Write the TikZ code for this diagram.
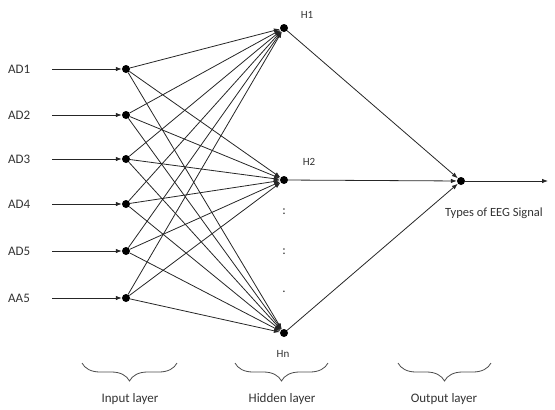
\documentclass[tikz,border=0pt]{standalone}
\usepackage{fontspec}
\setmainfont{Carlito}
\usetikzlibrary{arrows.meta,decorations.pathreplacing}

\begin{document}
\begin{tikzpicture}[x=1pt, y=-1pt, font=\fontsize{13}{15}\selectfont]
        \tikzset{
            neuron/.style={circle, fill=black, inner sep=0pt, minimum size=8pt},
            link/.style={-{Latex[length=6pt,width=4.5pt]}, line width=0.8pt, draw=black!85},
            layerbrace/.style={
                decorate,
                decoration={brace, mirror, amplitude=18pt},
                line width=0.8pt,
                draw=black!70
            },
            tag/.style={text=black!80, inner sep=1pt},
            smalltag/.style={tag, font=\fontsize{11}{13}\selectfont}
        }
        \useasboundingbox (0,0) rectangle (555,410);

        % input layer
        \node[neuron] (in1) at (126,69) {};
        \node[neuron] (in2) at (126,115) {};
        \node[neuron] (in3) at (126,159) {};
        \node[neuron] (in4) at (126,204) {};
        \node[neuron] (in5) at (126,251) {};
        \node[neuron] (in6) at (126,298) {};

        \node[tag, anchor=west] at (7,69) {AD1};
        \node[tag, anchor=west] at (7,115) {AD2};
        \node[tag, anchor=west] at (7,159) {AD3};
        \node[tag, anchor=west] at (7,204) {AD4};
        \node[tag, anchor=west] at (7,251) {AD5};
        \node[tag, anchor=west] at (7,298) {AA5};

        \coordinate (src1) at (52,69);
        \coordinate (src2) at (52,115);
        \coordinate (src3) at (52,159);
        \coordinate (src4) at (52,204);
        \coordinate (src5) at (52,251);
        \coordinate (src6) at (52,298);

        % hidden layer
        \node[neuron] (h1) at (284,28) {};
        \node[neuron] (h2) at (284,180) {};
        \node[neuron] (hn) at (284,333) {};
        \node[smalltag] at (307,15) {H1};
        \node[smalltag] at (309,162) {H2};
        \node[smalltag] at (283,354) {Hn};
        \node[tag] at (284,212) {:};
        \node[tag] at (284,252) {:};
        \node[tag] at (284,292) {.};

        % output layer
        \node[neuron] (out) at (461,181) {};
        \coordinate (sig) at (548,181);
        \node[tag, anchor=west, font=\fontsize{12.5}{14}\selectfont] at (444,213) {Types of EEG Signal};

        \foreach \i in {1,...,6} {
            \draw[link] (src\i) -- (in\i);
            \foreach \h in {h1,h2,hn}
                \draw[link] (in\i) -- (\h);
        }
        \foreach \h in {h1,h2,hn}
            \draw[link] (\h) -- (out);
        \draw[link] (out) -- (sig);

        % layer braces
        \draw[layerbrace] (82,363) -- (177,363);
        \draw[layerbrace] (235,363) -- (328,363);
        \draw[layerbrace] (398,363) -- (491,363);
        \node[tag] at (130,399) {Input layer};
        \node[tag] at (282,399) {Hidden layer};
        \node[tag] at (444,399) {Output layer};
    \end{tikzpicture}
\end{document}
